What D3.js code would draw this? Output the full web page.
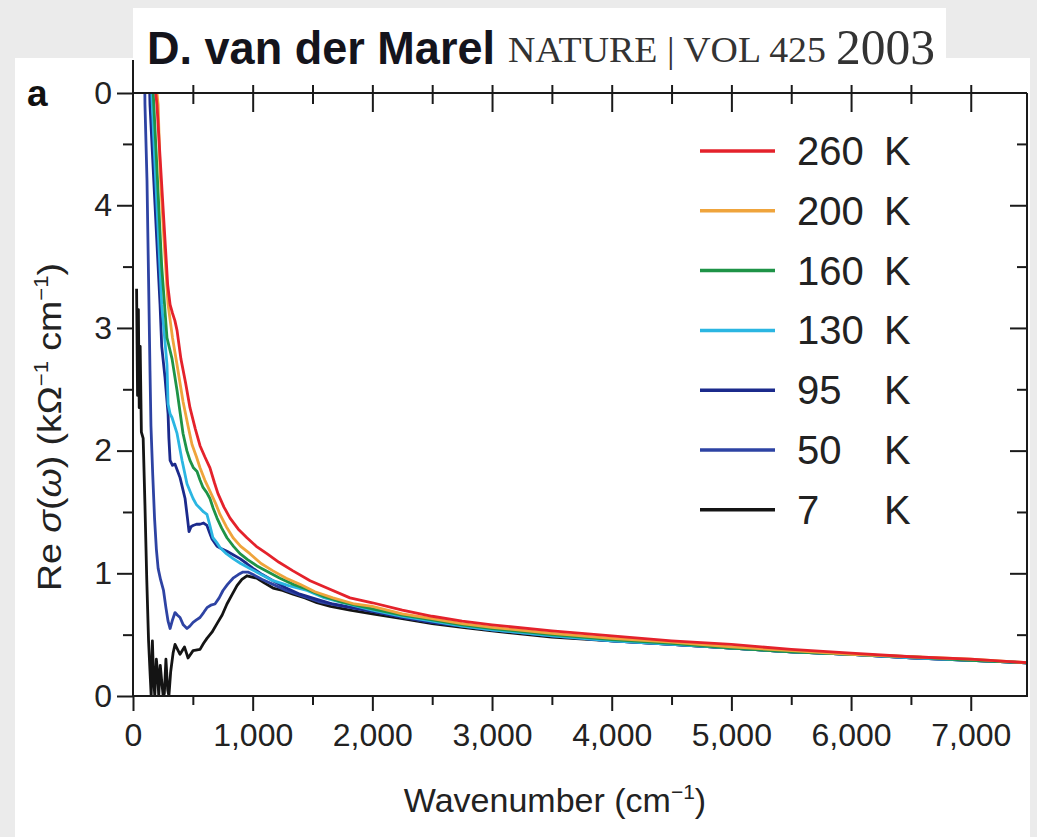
<!DOCTYPE html>
<html>
<head>
<meta charset="utf-8">
<script src="https://cdn.jsdelivr.net/npm/d3@7"></script>
<style>
  body { margin: 0; background: #ebebeb; }
  svg { display: block; }
</style>
</head>
<body>
<div id="chart"></div>
<script>
// Re sigma(omega) in kOhm^-1 cm^-1 vs wavenumber (cm^-1), pairs
const s260 = [[150,5.3],[200,4.82],[250,4.0],[290,3.35],[310,3.19],[330,3.12],[350,3.06],[368,2.98],[400,2.75],[440,2.55],[476,2.35],[520,2.18],[560,2.04],[600,1.95],[643,1.86],[680,1.74],[710,1.65],[760,1.54],[811,1.45],[880,1.36],[952,1.29],[1030,1.22],[1119,1.16],[1220,1.09],[1337,1.02],[1480,0.94],[1621,0.88],[1813,0.80],[2000,0.76],[2250,0.70],[2500,0.65],[2750,0.61],[3000,0.58],[3500,0.53],[4000,0.49],[4500,0.45],[5000,0.42],[5500,0.38],[6000,0.35],[6500,0.32],[7000,0.30],[7500,0.27]];
const s200 = [[160,5.3],[210,4.82],[226,4.28],[260,3.7],[293,3.19],[330,2.92],[368,2.7],[418,2.40],[460,2.2],[493,2.05],[530,1.95],[560,1.86],[600,1.76],[643,1.67],[690,1.57],[727,1.48],[780,1.38],[836,1.29],[900,1.22],[977,1.16],[1070,1.08],[1170,1.02],[1280,0.96],[1395,0.91],[1520,0.85],[1671,0.80],[1850,0.75],[2000,0.73],[2250,0.67],[2500,0.63],[2750,0.59],[3000,0.56],[3500,0.51],[4000,0.47],[4500,0.44],[5000,0.40],[5500,0.37],[6000,0.34],[6500,0.32],[7000,0.30],[7500,0.27]];
const s160 = [[150,5.3],[190,4.5],[240,3.5],[284,2.92],[326,2.75],[368,2.49],[418,2.14],[450,2.0],[476,1.92],[505,1.86],[535,1.83],[560,1.76],[585,1.70],[615,1.66],[643,1.61],[670,1.53],[702,1.45],[740,1.37],[785,1.29],[840,1.22],[894,1.16],[960,1.11],[1036,1.06],[1130,1.01],[1228,0.96],[1340,0.91],[1454,0.87],[1600,0.81],[1729,0.77],[2000,0.71],[2250,0.66],[2500,0.62],[2750,0.58],[3000,0.55],[3500,0.50],[4000,0.46],[4500,0.43],[5000,0.39],[5500,0.36],[6000,0.34],[6500,0.32],[7000,0.29],[7500,0.27]];
const s130 = [[140,5.3],[180,4.4],[240,3.19],[284,2.7],[293,2.38],[310,2.3],[326,2.27],[368,2.14],[410,1.92],[451,1.73],[480,1.66],[502,1.61],[530,1.56],[560,1.53],[590,1.50],[618,1.48],[640,1.40],[668,1.29],[700,1.25],[727,1.21],[780,1.16],[836,1.12],[900,1.08],[977,1.04],[1070,0.99],[1170,0.94],[1300,0.90],[1454,0.86],[1600,0.80],[1750,0.76],[2000,0.70],[2250,0.65],[2500,0.61],[2750,0.57],[3000,0.54],[3500,0.49],[4000,0.45],[4500,0.42],[5000,0.39],[5500,0.36],[6000,0.34],[6500,0.31],[7000,0.29],[7500,0.27]];
const s95 = [[130,5.3],[142,4.82],[184,4.0],[226,3.19],[240,2.85],[267,2.6],[293,2.30],[300,2.1],[310,1.92],[330,1.88],[351,1.89],[370,1.84],[393,1.78],[435,1.61],[455,1.45],[468,1.34],[485,1.38],[502,1.39],[530,1.40],[560,1.40],[590,1.41],[618,1.39],[640,1.33],[660,1.28],[702,1.22],[740,1.20],[785,1.18],[840,1.15],[894,1.12],[950,1.08],[1003,1.04],[1080,0.99],[1170,0.94],[1280,0.88],[1395,0.83],[1530,0.79],[1671,0.75],[2000,0.69],[2250,0.64],[2500,0.60],[2750,0.57],[3000,0.54],[3500,0.49],[4000,0.45],[4500,0.42],[5000,0.39],[5500,0.36],[6000,0.34],[6500,0.31],[7000,0.29],[7500,0.27]];
const s50 = [[95,5.3],[100,4.82],[117,4.2],[130,3.4],[142,2.65],[150,2.2],[165,1.8],[180,1.45],[195,1.2],[210,1.04],[230,0.95],[255,0.86],[275,0.72],[293,0.61],[310,0.55],[330,0.62],[351,0.68],[370,0.66],[393,0.64],[420,0.58],[451,0.55],[475,0.57],[502,0.60],[530,0.62],[560,0.64],[590,0.68],[618,0.72],[650,0.74],[685,0.75],[720,0.80],[752,0.86],[790,0.91],[836,0.96],[880,0.99],[919,1.01],[960,1.01],[1003,0.99],[1080,0.95],[1170,0.91],[1280,0.86],[1400,0.82],[1550,0.77],[1700,0.74],[2000,0.69],[2250,0.64],[2500,0.60],[2750,0.57],[3000,0.54],[3500,0.49],[4000,0.45],[4500,0.42],[5000,0.39],[5500,0.36],[6000,0.34],[6500,0.31],[7000,0.29],[7500,0.27]];
const s7 = [[30,3.32],[38,2.45],[45,3.15],[52,2.35],[60,2.85],[70,2.15],[85,2.1],[100,1.55],[115,0.95],[130,0.45],[142,0.2],[152,0.0],[162,0.45],[172,0.15],[182,0.0],[195,0.3],[205,0.2],[215,0.0],[228,0.25],[240,0.12],[252,0.0],[262,0.02],[275,0.3],[290,0.05],[300,0.0],[315,0.2],[335,0.35],[351,0.42],[372,0.38],[393,0.34],[430,0.40],[460,0.31],[502,0.37],[560,0.38],[590,0.43],[618,0.47],[660,0.52],[702,0.59],[745,0.66],[785,0.75],[830,0.83],[869,0.90],[910,0.95],[952,0.98],[1036,0.96],[1100,0.92],[1170,0.88],[1250,0.86],[1337,0.83],[1437,0.80],[1537,0.76],[1650,0.73],[1813,0.70],[2000,0.67],[2250,0.63],[2500,0.59],[2750,0.56],[3000,0.53],[3500,0.48],[4000,0.45],[4500,0.42],[5000,0.39],[5500,0.36],[6000,0.34],[6500,0.31],[7000,0.29],[7500,0.27]];

const temps = ["260", "200", "160", "130", "95", "50", "7"];
const colors = ["#e4222b", "#efa43c", "#1e9347", "#2bb6e2", "#1b2a8c", "#2e43a3", "#141414"];
const seriesData = [s260, s200, s160, s130, s95, s50, s7];

const xMajor = [0, 1000, 2000, 3000, 4000, 5000, 6000, 7000];
const xMinor = [500, 1500, 2500, 3500, 4500, 5500, 6500];
const yMajor = [0, 1, 2, 3, 4];
const yMinor = [0.5, 1.5, 2.5, 3.5, 4.5];

const W = 1037, H = 837;
const plotL = 133, plotR = 1027, plotT = 93, plotB = 696;
const font = "'Liberation Sans', Arial, Helvetica, sans-serif";
const serif = "'Liberation Serif', 'Times New Roman', serif";

const svg = d3.select("#chart").append("svg")
  .attr("width", W).attr("height", H);

// page backgrounds
svg.append("rect").attr("width", W).attr("height", H).attr("fill", "#ebebeb");
svg.append("rect").attr("x", 15).attr("y", 58).attr("width", 1015).attr("height", H - 58).attr("fill", "#fff");
svg.append("rect").attr("x", 133).attr("y", 8).attr("width", 813).attr("height", 62).attr("fill", "#fff");

// header
svg.append("text").attr("x", 147).attr("y", 64)
  .attr("font-family", font).attr("font-weight", "bold").attr("font-size", 47)
  .attr("textLength", 348).attr("lengthAdjust", "spacingAndGlyphs")
  .attr("fill", "#14141c").text("D. van der Marel");
svg.append("text").attr("x", 508).attr("y", 62)
  .attr("font-family", serif).attr("font-size", 35)
  .attr("textLength", 318).attr("lengthAdjust", "spacingAndGlyphs")
  .attr("fill", "#333").text("NATURE | VOL 425");
svg.append("text").attr("x", 836).attr("y", 64)
  .attr("font-family", serif).attr("font-size", 50)
  .attr("textLength", 99).attr("lengthAdjust", "spacingAndGlyphs")
  .attr("fill", "#333").text("2003");

const x = d3.scaleLinear().domain([0, 7470]).range([plotL, plotR]);
const y = d3.scaleLinear().domain([0, 4.915]).range([plotB, plotT]);

svg.append("clipPath").attr("id", "plot")
  .append("rect").attr("x", plotL).attr("y", plotT).attr("width", plotR - plotL).attr("height", plotB - plotT);

const line = d3.line().x(d => x(d[0])).y(d => y(d[1]));

// draw low temperature first so red ends on top
const curves = svg.append("g").attr("clip-path", "url(#plot)");
for (let i = seriesData.length - 1; i >= 0; i--) {
  curves.append("path")
    .attr("d", line(seriesData[i]))
    .attr("fill", "none")
    .attr("stroke", colors[i])
    .attr("stroke-width", 2.8)
    .attr("stroke-linejoin", "round");
}

function styleAxis(g) {
  g.select(".domain").remove();
  g.selectAll("line").attr("stroke", "#1a1a1a").attr("stroke-width", 2);
  g.selectAll("text").attr("font-family", font).attr("fill", "#222");
}

// bottom axis
svg.append("g").attr("transform", `translate(0,${plotB})`)
  .call(d3.axisBottom(x).tickValues(xMajor).tickSize(15).tickPadding(12).tickFormat(d3.format(",")))
  .call(styleAxis)
  .call(g => g.selectAll("text").attr("font-size", 32));
svg.append("g").attr("transform", `translate(0,${plotB})`)
  .call(d3.axisBottom(x).tickValues(xMinor).tickSize(9).tickFormat(""))
  .call(styleAxis);

// top axis, ticks cross the line
svg.append("g").attr("transform", `translate(0,${plotT})`)
  .call(d3.axisBottom(x).tickValues(xMajor.slice(1)).tickSize(19).tickFormat(""))
  .call(styleAxis)
  .call(g => g.selectAll("line").attr("y1", -8));
svg.append("g").attr("transform", `translate(0,${plotT})`)
  .call(d3.axisBottom(x).tickValues(xMinor).tickSize(11).tickFormat(""))
  .call(styleAxis)
  .call(g => g.selectAll("line").attr("y1", -8));

// left axis (top value printed as "0" like the figure)
svg.append("g").attr("transform", `translate(${plotL},0)`)
  .call(d3.axisLeft(y).tickValues(yMajor.concat([4.915])).tickSize(16).tickPadding(5)
    .tickFormat(d => d > 4.5 ? "0" : d))
  .call(styleAxis)
  .call(g => g.selectAll("text").attr("font-size", 32));
svg.append("g").attr("transform", `translate(${plotL},0)`)
  .call(d3.axisLeft(y).tickValues(yMinor).tickSize(10).tickFormat(""))
  .call(styleAxis);

// right axis, inward ticks
svg.append("g").attr("transform", `translate(${plotR},0)`)
  .call(d3.axisLeft(y).tickValues(yMajor.slice(1)).tickSize(17).tickFormat(""))
  .call(styleAxis);
svg.append("g").attr("transform", `translate(${plotR},0)`)
  .call(d3.axisLeft(y).tickValues(yMinor).tickSize(10).tickFormat(""))
  .call(styleAxis);

// frame
const frame = svg.append("g").attr("stroke", "#1a1a1a").attr("stroke-width", 2);
frame.append("line").attr("x1", plotL).attr("x2", plotL).attr("y1", 60).attr("y2", plotB + 1);
frame.append("line").attr("x1", plotR).attr("x2", plotR).attr("y1", plotT).attr("y2", plotB + 1);
frame.append("line").attr("x1", plotL).attr("x2", plotR).attr("y1", plotB).attr("y2", plotB);
frame.append("line").attr("x1", plotL).attr("x2", plotR).attr("y1", plotT).attr("y2", plotT);

// panel letter
svg.append("text").attr("x", 27).attr("y", 106)
  .attr("font-family", font).attr("font-weight", "bold").attr("font-size", 37)
  .attr("fill", "#111").text("a");

// axis titles
const xt = svg.append("text").attr("x", 555).attr("y", 812)
  .attr("text-anchor", "middle").attr("font-family", font).attr("font-size", 34).attr("fill", "#222");
xt.append("tspan").text("Wavenumber (cm");
xt.append("tspan").attr("dy", -13).attr("font-size", 21).text("\u22121");
xt.append("tspan").attr("dy", 13).text(")");

const yt = svg.append("text").attr("transform", "translate(61,427) rotate(-90)")
  .attr("text-anchor", "middle").attr("font-family", font).attr("font-size", 34).attr("fill", "#222")
  .attr("textLength", 328).attr("lengthAdjust", "spacingAndGlyphs");
yt.append("tspan").text("Re ");
yt.append("tspan").attr("font-style", "italic").text("\u03c3");
yt.append("tspan").text("(");
yt.append("tspan").attr("font-style", "italic").text("\u03c9");
yt.append("tspan").text(") (k\u03a9");
yt.append("tspan").attr("dy", -13).attr("font-size", 20).text("\u22121");
yt.append("tspan").attr("dy", 13).text(" cm");
yt.append("tspan").attr("dy", -13).attr("font-size", 20).text("\u22121");
yt.append("tspan").attr("dy", 13).text(")");

// legend
const legend = svg.append("g");
temps.forEach((t, i) => {
  const ly = 151 + i * 59.8;
  legend.append("line").attr("x1", 700).attr("x2", 775).attr("y1", ly).attr("y2", ly)
    .attr("stroke", colors[i]).attr("stroke-width", 3.5);
  legend.append("text").attr("x", 797).attr("y", ly + 14)
    .attr("font-family", font).attr("font-size", 40).attr("fill", "#222").text(t);
  legend.append("text").attr("x", 884).attr("y", ly + 14)
    .attr("font-family", font).attr("font-size", 40).attr("fill", "#222").text("K");
});
</script>
</body>
</html>
